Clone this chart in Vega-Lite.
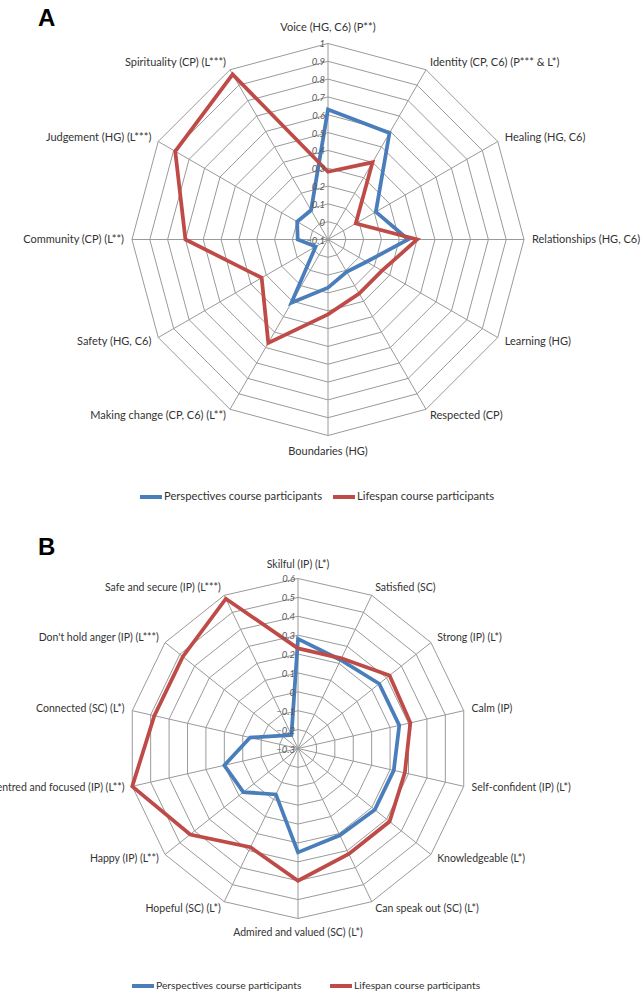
{
  "$schema": "https://vega.github.io/schema/vega-lite/v6.json",
  "padding": 0,
  "spacing": 0,
  "bounds": "flush",
  "background": "white",
  "config": {"view": {"stroke": null}, "font": "Lato"},
  "resolve": {"scale": {"x": "independent", "y": "independent", "color": "independent"}, "legend": {"color": "independent"}},
  "datasets": {
    "catA": [
      {"k": 0, "category": "Voice (HG, C6) (P**)"},
      {"k": 1, "category": "Identity (CP, C6) (P*** & L*)"},
      {"k": 2, "category": "Healing (HG, C6)"},
      {"k": 3, "category": "Relationships (HG, C6)"},
      {"k": 4, "category": "Learning (HG)"},
      {"k": 5, "category": "Respected (CP)"},
      {"k": 6, "category": "Boundaries (HG)"},
      {"k": 7, "category": "Making change (CP, C6) (L**)"},
      {"k": 8, "category": "Safety (HG, C6)"},
      {"k": 9, "category": "Community (CP) (L**)"},
      {"k": 10, "category": "Judgement (HG) (L***)"},
      {"k": 11, "category": "Spirituality (CP) (L***)"}
    ],
    "ringsA": [
      {"level": -0.1, "k": [0,1,2,3,4,5,6,7,8,9,10,11]},
      {"level": 0, "k": [0,1,2,3,4,5,6,7,8,9,10,11]},
      {"level": 0.1, "k": [0,1,2,3,4,5,6,7,8,9,10,11]},
      {"level": 0.2, "k": [0,1,2,3,4,5,6,7,8,9,10,11]},
      {"level": 0.3, "k": [0,1,2,3,4,5,6,7,8,9,10,11]},
      {"level": 0.4, "k": [0,1,2,3,4,5,6,7,8,9,10,11]},
      {"level": 0.5, "k": [0,1,2,3,4,5,6,7,8,9,10,11]},
      {"level": 0.6, "k": [0,1,2,3,4,5,6,7,8,9,10,11]},
      {"level": 0.7, "k": [0,1,2,3,4,5,6,7,8,9,10,11]},
      {"level": 0.8, "k": [0,1,2,3,4,5,6,7,8,9,10,11]},
      {"level": 0.9, "k": [0,1,2,3,4,5,6,7,8,9,10,11]},
      {"level": 1, "k": [0,1,2,3,4,5,6,7,8,9,10,11]}
    ],
    "seriesA": [
      {"k": 0, "series": "Perspectives course participants", "value": 0.63},
      {"k": 1, "series": "Perspectives course participants", "value": 0.59},
      {"k": 2, "series": "Perspectives course participants", "value": 0.21},
      {"k": 3, "series": "Perspectives course participants", "value": 0.35},
      {"k": 4, "series": "Perspectives course participants", "value": 0.15},
      {"k": 5, "series": "Perspectives course participants", "value": 0.11},
      {"k": 6, "series": "Perspectives course participants", "value": 0.17},
      {"k": 7, "series": "Perspectives course participants", "value": 0.31},
      {"k": 8, "series": "Perspectives course participants", "value": -0.02},
      {"k": 9, "series": "Perspectives course participants", "value": 0.07},
      {"k": 10, "series": "Perspectives course participants", "value": 0.10},
      {"k": 11, "series": "Perspectives course participants", "value": 0.09},
      {"k": 0, "series": "Lifespan course participants", "value": 0.28},
      {"k": 1, "series": "Lifespan course participants", "value": 0.40},
      {"k": 2, "series": "Lifespan course participants", "value": 0.08},
      {"k": 3, "series": "Lifespan course participants", "value": 0.40},
      {"k": 4, "series": "Lifespan course participants", "value": 0.25},
      {"k": 5, "series": "Lifespan course participants", "value": 0.25},
      {"k": 6, "series": "Lifespan course participants", "value": 0.32},
      {"k": 7, "series": "Lifespan course participants", "value": 0.57},
      {"k": 8, "series": "Lifespan course participants", "value": 0.33},
      {"k": 9, "series": "Lifespan course participants", "value": 0.70},
      {"k": 10, "series": "Lifespan course participants", "value": 0.89},
      {"k": 11, "series": "Lifespan course participants", "value": 0.97}
    ],
    "catB": [
      {"k": 0, "category": "Skilful (IP) (L*)"},
      {"k": 1, "category": "Satisfied (SC)"},
      {"k": 2, "category": "Strong (IP) (L*)"},
      {"k": 3, "category": "Calm (IP)"},
      {"k": 4, "category": "Self-confident (IP) (L*)"},
      {"k": 5, "category": "Knowledgeable (L*)"},
      {"k": 6, "category": "Can speak out (SC) (L*)"},
      {"k": 7, "category": "Admired and valued (SC) (L*)"},
      {"k": 8, "category": "Hopeful (SC) (L*)"},
      {"k": 9, "category": "Happy (IP) (L**)"},
      {"k": 10, "category": "Centred and focused (IP) (L**)"},
      {"k": 11, "category": "Connected (SC) (L*)"},
      {"k": 12, "category": "Don't hold anger (IP) (L***)"},
      {"k": 13, "category": "Safe and secure (IP) (L***)"}
    ],
    "ringsB": [
      {"level": -0.3, "k": [0,1,2,3,4,5,6,7,8,9,10,11,12,13]},
      {"level": -0.2, "k": [0,1,2,3,4,5,6,7,8,9,10,11,12,13]},
      {"level": -0.1, "k": [0,1,2,3,4,5,6,7,8,9,10,11,12,13]},
      {"level": 0, "k": [0,1,2,3,4,5,6,7,8,9,10,11,12,13]},
      {"level": 0.1, "k": [0,1,2,3,4,5,6,7,8,9,10,11,12,13]},
      {"level": 0.2, "k": [0,1,2,3,4,5,6,7,8,9,10,11,12,13]},
      {"level": 0.3, "k": [0,1,2,3,4,5,6,7,8,9,10,11,12,13]},
      {"level": 0.4, "k": [0,1,2,3,4,5,6,7,8,9,10,11,12,13]},
      {"level": 0.5, "k": [0,1,2,3,4,5,6,7,8,9,10,11,12,13]},
      {"level": 0.6, "k": [0,1,2,3,4,5,6,7,8,9,10,11,12,13]}
    ],
    "seriesB": [
      {"k": 0, "series": "Perspectives course participants", "value": 0.28},
      {"k": 1, "series": "Perspectives course participants", "value": 0.22},
      {"k": 2, "series": "Perspectives course participants", "value": 0.25},
      {"k": 3, "series": "Perspectives course participants", "value": 0.25},
      {"k": 4, "series": "Perspectives course participants", "value": 0.22},
      {"k": 5, "series": "Perspectives course participants", "value": 0.22},
      {"k": 6, "series": "Perspectives course participants", "value": 0.21},
      {"k": 7, "series": "Perspectives course participants", "value": 0.25},
      {"k": 8, "series": "Perspectives course participants", "value": -0.03},
      {"k": 9, "series": "Perspectives course participants", "value": 0.07},
      {"k": 10, "series": "Perspectives course participants", "value": 0.10},
      {"k": 11, "series": "Perspectives course participants", "value": -0.04},
      {"k": 12, "series": "Perspectives course participants", "value": -0.19},
      {"k": 13, "series": "Perspectives course participants", "value": -0.22},
      {"k": 0, "series": "Lifespan course participants", "value": 0.23},
      {"k": 1, "series": "Lifespan course participants", "value": 0.23},
      {"k": 2, "series": "Lifespan course participants", "value": 0.32},
      {"k": 3, "series": "Lifespan course participants", "value": 0.31},
      {"k": 4, "series": "Lifespan course participants", "value": 0.28},
      {"k": 5, "series": "Lifespan course participants", "value": 0.32},
      {"k": 6, "series": "Lifespan course participants", "value": 0.32},
      {"k": 7, "series": "Lifespan course participants", "value": 0.40},
      {"k": 8, "series": "Lifespan course participants", "value": 0.28},
      {"k": 9, "series": "Lifespan course participants", "value": 0.43},
      {"k": 10, "series": "Lifespan course participants", "value": 0.60},
      {"k": 11, "series": "Lifespan course participants", "value": 0.48},
      {"k": 12, "series": "Lifespan course participants", "value": 0.48},
      {"k": 13, "series": "Lifespan course participants", "value": 0.58}
    ],
    "panelA": [{"panel": "A"}],
    "panelB": [{"panel": "B"}]
  },
  "vconcat": [
    {
      "width": 643,
      "height": 530,
      "layer": [
        {
          "data": {"name": "ringsA"},
          "transform": [
            {"flatten": ["k"]},
            {"calculate": "(datum.level + 0.1) * 178.2", "as": "r"},
            {"calculate": "datum.r * sin(datum.k * PI / 6)", "as": "px"},
            {"calculate": "datum.r * cos(datum.k * PI / 6)", "as": "py"}
          ],
          "mark": {"type": "line", "interpolate": "linear-closed", "stroke": "#9a9a9a", "strokeWidth": 1},
          "encoding": {
            "x": {"field": "px", "type": "quantitative", "scale": {"domain": [-328, 315], "nice": false, "zero": false}, "axis": null},
            "y": {"field": "py", "type": "quantitative", "scale": {"domain": [-290.5, 239.5], "nice": false, "zero": false}, "axis": null},
            "detail": {"field": "level", "type": "nominal"},
            "order": {"field": "k", "type": "quantitative"}
          }
        },
        {
          "data": {"name": "catA"},
          "transform": [
            {"calculate": "196 * sin(datum.k * PI / 6)", "as": "px"},
            {"calculate": "196 * cos(datum.k * PI / 6)", "as": "py"},
            {"calculate": "0", "as": "cx"}
          ],
          "mark": {"type": "rule", "stroke": "#9a9a9a", "strokeWidth": 1},
          "encoding": {
            "x": {"field": "px", "type": "quantitative"},
            "y": {"field": "py", "type": "quantitative"},
            "x2": {"field": "cx"},
            "y2": {"field": "cx"}
          }
        },
        {
          "data": {"name": "seriesA"},
          "transform": [
            {"calculate": "(datum.value + 0.1) * 178.2", "as": "r"},
            {"calculate": "datum.r * sin(datum.k * PI / 6)", "as": "px"},
            {"calculate": "datum.r * cos(datum.k * PI / 6)", "as": "py"}
          ],
          "mark": {"type": "line", "interpolate": "linear-closed", "strokeWidth": 3.75},
          "encoding": {
            "x": {"field": "px", "type": "quantitative"},
            "y": {"field": "py", "type": "quantitative"},
            "color": {
              "field": "series", "type": "nominal",
              "scale": {"domain": ["Perspectives course participants", "Lifespan course participants"], "range": ["#4A7EBB", "#BE4B48"]},
              "legend": {"title": null, "orient": "none", "direction": "horizontal", "legendX": 138, "legendY": 484, "symbolType": "stroke", "symbolSize": 484, "symbolStrokeWidth": 4, "labelFont": "Lato", "labelFontSize": 11.2, "labelColor": "#333333", "labelOffset": 0, "labelLimit": 400, "columnPadding": 2, "padding": 0}
            },
            "order": {"field": "k", "type": "quantitative"}
          }
        },
        {
          "data": {"name": "ringsA"},
          "transform": [
            {"calculate": "0", "as": "px"},
            {"calculate": "(datum.level + 0.1) * 178.2", "as": "py"}
          ],
          "mark": {"type": "text", "align": "right", "baseline": "middle", "dx": -3, "dy": 1, "fontStyle": "italic", "fontSize": 9.5, "font": "Lato", "fill": "#5a5a5a"},
          "encoding": {
            "x": {"field": "px", "type": "quantitative"},
            "y": {"field": "py", "type": "quantitative"},
            "text": {"field": "level", "type": "quantitative", "format": ".1~f"}
          }
        },
        {
          "data": {"name": "catA"},
          "transform": [
            {"calculate": "datum.k * PI / 6", "as": "a"},
            {"filter": "sin(datum.a) > 0.01"},
            {"calculate": "204 * sin(datum.a)", "as": "px"},
            {"calculate": "204 * cos(datum.a)", "as": "py"}
          ],
          "mark": {"type": "text", "align": "left", "baseline": "middle", "fontSize": 11, "font": "Lato", "fill": "#333333", "clip": true},
          "encoding": {
            "x": {"field": "px", "type": "quantitative"},
            "y": {"field": "py", "type": "quantitative"},
            "text": {"field": "category", "type": "nominal"}
          }
        },
        {
          "data": {"name": "catA"},
          "transform": [
            {"calculate": "datum.k * PI / 6", "as": "a"},
            {"filter": "sin(datum.a) < -0.01"},
            {"calculate": "204 * sin(datum.a)", "as": "px"},
            {"calculate": "204 * cos(datum.a)", "as": "py"}
          ],
          "mark": {"type": "text", "align": "right", "baseline": "middle", "fontSize": 11, "font": "Lato", "fill": "#333333", "clip": true},
          "encoding": {
            "x": {"field": "px", "type": "quantitative"},
            "y": {"field": "py", "type": "quantitative"},
            "text": {"field": "category", "type": "nominal"}
          }
        },
        {
          "data": {"name": "catA"},
          "transform": [
            {"calculate": "datum.k * PI / 6", "as": "a"},
            {"filter": "abs(sin(datum.a)) <= 0.01"},
            {"calculate": "0", "as": "px"},
            {"calculate": "212 * cos(datum.a)", "as": "py"}
          ],
          "mark": {"type": "text", "align": "center", "baseline": "middle", "fontSize": 11, "font": "Lato", "fill": "#333333", "clip": true},
          "encoding": {
            "x": {"field": "px", "type": "quantitative"},
            "y": {"field": "py", "type": "quantitative"},
            "text": {"field": "category", "type": "nominal"}
          }
        },
        {
          "data": {"name": "panelA"},
          "mark": {"type": "text", "align": "left", "baseline": "alphabetic", "font": "Liberation Sans", "fontSize": 24, "fontWeight": "bold", "fill": "#000000"},
          "encoding": {
            "x": {"datum": -290, "type": "quantitative"},
            "y": {"datum": 213.5, "type": "quantitative"},
            "text": {"field": "panel", "type": "nominal"}
          }
        }
      ]
    },
    {
      "width": 643,
      "height": 464,
      "layer": [
        {
          "data": {"name": "ringsB"},
          "transform": [
            {"flatten": ["k"]},
            {"calculate": "(datum.level + 0.3) * 188.9", "as": "r"},
            {"calculate": "datum.r * sin(datum.k * PI / 7)", "as": "px"},
            {"calculate": "datum.r * cos(datum.k * PI / 7)", "as": "py"}
          ],
          "mark": {"type": "line", "interpolate": "linear-closed", "stroke": "#9a9a9a", "strokeWidth": 1},
          "encoding": {
            "x": {"field": "px", "type": "quantitative", "scale": {"domain": [-298, 345], "nice": false, "zero": false}, "axis": null},
            "y": {"field": "py", "type": "quantitative", "scale": {"domain": [-245.5, 218.5], "nice": false, "zero": false}, "axis": null},
            "detail": {"field": "level", "type": "nominal"},
            "order": {"field": "k", "type": "quantitative"}
          }
        },
        {
          "data": {"name": "catB"},
          "transform": [
            {"calculate": "170 * sin(datum.k * PI / 7)", "as": "px"},
            {"calculate": "170 * cos(datum.k * PI / 7)", "as": "py"},
            {"calculate": "0", "as": "cx"}
          ],
          "mark": {"type": "rule", "stroke": "#9a9a9a", "strokeWidth": 1},
          "encoding": {
            "x": {"field": "px", "type": "quantitative"},
            "y": {"field": "py", "type": "quantitative"},
            "x2": {"field": "cx"},
            "y2": {"field": "cx"}
          }
        },
        {
          "data": {"name": "seriesB"},
          "transform": [
            {"calculate": "(datum.value + 0.3) * 188.9", "as": "r"},
            {"calculate": "datum.r * sin(datum.k * PI / 7)", "as": "px"},
            {"calculate": "datum.r * cos(datum.k * PI / 7)", "as": "py"}
          ],
          "mark": {"type": "line", "interpolate": "linear-closed", "strokeWidth": 3.75},
          "encoding": {
            "x": {"field": "px", "type": "quantitative"},
            "y": {"field": "py", "type": "quantitative"},
            "color": {
              "field": "series", "type": "nominal",
              "scale": {"domain": ["Perspectives course participants", "Lifespan course participants"], "range": ["#4A7EBB", "#BE4B48"]},
              "legend": {"title": null, "orient": "none", "direction": "horizontal", "legendX": 130, "legendY": 443, "symbolType": "stroke", "symbolSize": 484, "symbolStrokeWidth": 4, "labelFont": "Lato", "labelFontSize": 10.3, "labelColor": "#333333", "labelOffset": 0, "labelLimit": 400, "columnPadding": 20, "padding": 0}
            },
            "order": {"field": "k", "type": "quantitative"}
          }
        },
        {
          "data": {"name": "ringsB"},
          "transform": [
            {"calculate": "0", "as": "px"},
            {"calculate": "(datum.level + 0.3) * 188.9", "as": "py"}
          ],
          "mark": {"type": "text", "align": "right", "baseline": "middle", "dx": -3, "dy": 1, "fontStyle": "italic", "fontSize": 9.5, "font": "Lato", "fill": "#5a5a5a"},
          "encoding": {
            "x": {"field": "px", "type": "quantitative"},
            "y": {"field": "py", "type": "quantitative"},
            "text": {"field": "level", "type": "quantitative", "format": ".1~f"}
          }
        },
        {
          "data": {"name": "catB"},
          "transform": [
            {"calculate": "datum.k * PI / 7", "as": "a"},
            {"filter": "sin(datum.a) > 0.01"},
            {"calculate": "178 * sin(datum.a)", "as": "px"},
            {"calculate": "178 * cos(datum.a)", "as": "py"}
          ],
          "mark": {"type": "text", "align": "left", "baseline": "middle", "fontSize": 10.5, "font": "Lato", "fill": "#333333", "clip": true},
          "encoding": {
            "x": {"field": "px", "type": "quantitative"},
            "y": {"field": "py", "type": "quantitative"},
            "text": {"field": "category", "type": "nominal"}
          }
        },
        {
          "data": {"name": "catB"},
          "transform": [
            {"calculate": "datum.k * PI / 7", "as": "a"},
            {"filter": "sin(datum.a) < -0.01"},
            {"calculate": "178 * sin(datum.a)", "as": "px"},
            {"calculate": "178 * cos(datum.a)", "as": "py"}
          ],
          "mark": {"type": "text", "align": "right", "baseline": "middle", "fontSize": 10.5, "font": "Lato", "fill": "#333333", "clip": true},
          "encoding": {
            "x": {"field": "px", "type": "quantitative"},
            "y": {"field": "py", "type": "quantitative"},
            "text": {"field": "category", "type": "nominal"}
          }
        },
        {
          "data": {"name": "catB"},
          "transform": [
            {"calculate": "datum.k * PI / 7", "as": "a"},
            {"filter": "abs(sin(datum.a)) <= 0.01"},
            {"calculate": "0", "as": "px"},
            {"calculate": "184 * cos(datum.a)", "as": "py"}
          ],
          "mark": {"type": "text", "align": "center", "baseline": "middle", "fontSize": 10.5, "font": "Lato", "fill": "#333333", "clip": true},
          "encoding": {
            "x": {"field": "px", "type": "quantitative"},
            "y": {"field": "py", "type": "quantitative"},
            "text": {"field": "category", "type": "nominal"}
          }
        },
        {
          "data": {"name": "panelB"},
          "mark": {"type": "text", "align": "left", "baseline": "alphabetic", "font": "Liberation Sans", "fontSize": 24, "fontWeight": "bold", "fill": "#000000"},
          "encoding": {
            "x": {"datum": -260, "type": "quantitative"},
            "y": {"datum": 193.5, "type": "quantitative"},
            "text": {"field": "panel", "type": "nominal"}
          }
        }
      ]
    }
  ]
}
